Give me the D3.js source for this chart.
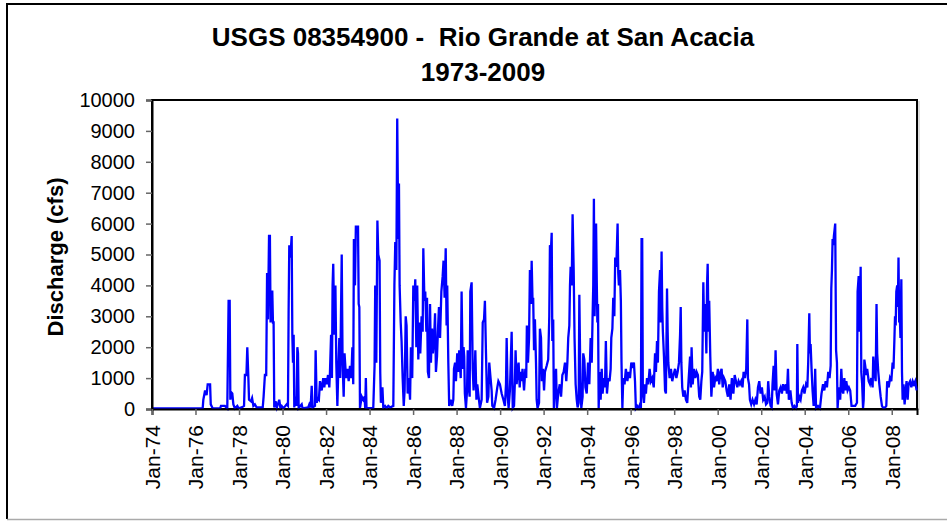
<!DOCTYPE html>
<html>
<head>
<meta charset="utf-8">
<script src="https://cdn.jsdelivr.net/npm/d3@7"></script>
<style>
  body { margin: 0; background: #fff; }
  svg { display: block; font-family: "Liberation Sans", Arial, sans-serif; }
  .title { white-space: pre; }
</style>
</head>
<body>
<svg id="chart" width="947" height="521"></svg>
<script>
// daily discharge as [decimal year, cfs]
const flow1974to1981 = [
  [1974.00,20],[1976.33,20],[1976.36,300],[1976.44,600],[1976.51,450],[1976.56,800],[1976.67,800],[1976.70,150],
  [1976.79,20],[1977.13,20],[1977.17,100],[1977.35,100],[1977.46,20],[1977.52,3500],[1977.57,3500],[1977.60,300],
  [1977.63,550],[1977.69,500],[1977.74,150],[1977.81,20],[1977.92,100],[1977.98,20],[1978.12,50],[1978.23,100],
  [1978.27,1100],[1978.34,1100],[1978.38,2000],[1978.43,1000],[1978.46,300],[1978.55,250],[1978.60,350],[1978.66,100],
  [1978.73,150],[1978.81,50],[1979.09,50],[1979.13,400],[1979.19,1100],[1979.25,1100],[1979.29,4400],[1979.33,2900],
  [1979.38,5600],[1979.42,5600],[1979.45,2800],[1979.48,3800],[1979.53,3800],[1979.56,2800],[1979.59,2800],[1979.62,50],
  [1979.68,250],[1979.74,50],[1979.85,300],[1979.90,50],[1979.96,100],[1980.04,20],[1980.19,150],[1980.25,100],
  [1980.28,3200],[1980.31,5300],[1980.36,4900],[1980.42,5600],[1980.45,2400],[1980.48,1500],[1980.51,2400],[1980.54,50],
  [1980.59,400],[1980.64,100],[1980.68,2000],[1980.71,1800],[1980.74,30],[1980.88,150],[1980.92,20],[1981.18,50],
  [1981.23,150],[1981.29,50],[1981.34,750],[1981.38,50],[1981.49,100],[1981.52,1900],[1981.57,200],[1981.61,350],
  [1981.67,300],[1981.72,900],[1981.80,600],[1981.87,1000],[1981.92,700],[1981.97,1000]
];

const flow1982to1989 = [
  [1982.03,800],[1982.09,1100],[1982.15,700],[1982.18,1200],[1982.23,2400],[1982.27,1000],[1982.30,4000],[1982.33,4700],
  [1982.38,2400],[1982.43,4000],[1982.47,1500],[1982.52,100],[1982.56,1200],[1982.61,2300],[1982.65,1000],[1982.72,5000],
  [1982.76,1500],[1982.81,400],[1982.85,1800],[1982.92,1000],[1982.98,1300],[1983.04,900],[1983.10,1400],[1983.16,1000],
  [1983.21,2000],[1983.25,800],[1983.28,5500],[1983.33,4000],[1983.37,5900],[1983.47,5900],[1983.50,3400],[1983.53,3300],
  [1983.56,30],[1983.64,400],[1983.71,300],[1983.77,400],[1983.80,30],[1983.83,1000],[1983.86,30],[1984.17,30],
  [1984.23,1400],[1984.26,4000],[1984.31,1500],[1984.36,6100],[1984.40,5000],[1984.46,4800],[1984.49,1200],[1984.52,200],
  [1984.59,700],[1984.63,50],[1984.71,100],[1984.78,30],[1984.86,100],[1984.94,50],[1985.09,100],[1985.14,4000],
  [1985.18,5400],[1985.23,4500],[1985.27,9400],[1985.32,5500],[1985.35,7300],[1985.38,4000],[1985.43,2800],[1985.47,2200],
  [1985.52,1000],[1985.57,100],[1985.61,600],[1985.66,3000],[1985.70,2700],[1985.75,500],[1985.80,1000],[1985.86,300],
  [1985.90,2000],[1985.96,1000],[1986.01,4000],[1986.06,3500],[1986.10,4200],[1986.15,2000],[1986.19,4000],[1986.24,1600],
  [1986.29,2800],[1986.33,1800],[1986.39,3000],[1986.44,2500],[1986.47,5200],[1986.52,3500],[1986.56,3800],[1986.61,2500],
  [1986.64,3600],[1986.68,1200],[1986.73,1000],[1986.78,3400],[1986.82,1500],[1986.87,2600],[1986.91,1800],[1986.96,2200],
  [1987.01,3100],[1987.05,1200],[1987.10,1700],[1987.14,2500],[1987.19,3300],[1987.24,2300],[1987.30,3800],[1987.36,4300],
  [1987.40,4800],[1987.45,3600],[1987.50,5200],[1987.54,2700],[1987.57,4000],[1987.62,1500],[1987.66,100],[1987.73,300],
  [1987.80,100],[1987.85,300],[1987.88,1300],[1987.93,1500],[1987.97,900],[1988.03,1800],[1988.08,1200],[1988.12,1900],
  [1988.19,1000],[1988.23,3800],[1988.28,1300],[1988.32,2000],[1988.35,1700],[1988.38,500],[1988.43,30],[1988.48,600],
  [1988.51,1900],[1988.55,800],[1988.60,400],[1988.63,3800],[1988.69,4100],[1988.74,1300],[1988.78,600],[1988.83,1200],
  [1988.86,1900],[1988.91,300],[1988.95,800],[1989.01,400],[1989.07,30],[1989.15,300],[1989.20,2800],[1989.26,2900],
  [1989.30,3500],[1989.35,1800],[1989.40,200],[1989.46,400],[1989.50,1500],[1989.56,1000],[1989.61,600],[1989.64,100],
  [1989.72,30],[1989.79,300],[1989.87,700],[1989.92,900],[1989.99,800]
];

const flow1990to1999 = [
  [1990.07,500],[1990.15,300],[1990.22,100],[1990.27,800],[1990.30,2300],[1990.35,400],[1990.39,30],[1990.45,600],
  [1990.53,2500],[1990.58,30],[1990.64,100],[1990.68,900],[1990.71,1900],[1990.76,800],[1990.81,1300],[1990.85,1500],
  [1990.90,700],[1990.94,1200],[1990.99,900],[1991.03,1300],[1991.10,600],[1991.16,1300],[1991.20,1000],[1991.23,2700],
  [1991.28,1500],[1991.33,2300],[1991.37,4500],[1991.42,3400],[1991.45,4800],[1991.49,3500],[1991.52,3600],[1991.56,1900],
  [1991.60,2900],[1991.65,1500],[1991.68,300],[1991.72,30],[1991.79,200],[1991.83,2600],[1991.88,2300],[1991.92,900],
  [1991.97,1300],[1992.02,600],[1992.06,1200],[1992.14,1400],[1992.21,1600],[1992.26,3000],[1992.29,5300],[1992.34,5200],
  [1992.37,5700],[1992.40,2200],[1992.44,2900],[1992.47,30],[1992.52,700],[1992.57,1300],[1992.61,30],[1992.67,500],
  [1992.74,800],[1992.80,400],[1992.86,1100],[1992.92,1200],[1992.98,1500],[1993.04,900],[1993.09,1500],[1993.13,2300],
  [1993.18,2700],[1993.21,4000],[1993.24,4600],[1993.29,4000],[1993.33,6300],[1993.38,4500],[1993.42,2300],[1993.47,800],
  [1993.52,300],[1993.56,50],[1993.61,200],[1993.64,3700],[1993.69,900],[1993.73,30],[1993.79,400],[1993.82,1800],
  [1993.87,1600],[1993.92,700],[1993.98,500],[1994.04,1500],[1994.10,800],[1994.16,2300],[1994.21,1500],[1994.25,3000],
  [1994.28,4000],[1994.31,6800],[1994.34,3000],[1994.37,4000],[1994.41,6000],[1994.44,4200],[1994.47,2800],[1994.50,3400],
  [1994.53,30],[1994.57,1200],[1994.62,300],[1994.67,1300],[1994.71,500],[1994.77,1000],[1994.82,700],[1994.86,2200],
  [1994.91,500],[1994.97,1000],[1995.03,900],[1995.08,1300],[1995.11,2300],[1995.16,2600],[1995.20,3600],[1995.25,3000],
  [1995.29,4900],[1995.34,4600],[1995.37,5300],[1995.40,6000],[1995.43,4400],[1995.46,4000],[1995.51,4500],[1995.55,3500],
  [1995.58,1500],[1995.62,30],[1995.66,1000],[1995.72,800],[1995.78,1300],[1995.85,900],[1995.91,1200],[1995.97,1000],
  [1996.03,1500],[1996.09,1400],[1996.15,1500],[1996.20,900],[1996.24,30],[1996.30,100],[1996.37,30],[1996.43,150],
  [1996.47,30],[1996.50,5500],[1996.53,5500],[1996.56,500],[1996.61,200],[1996.66,800],[1996.70,500],[1996.75,1000],
  [1996.81,800],[1996.87,1300],[1996.93,900],[1996.99,1000],[1997.06,700],[1997.12,1800],[1997.16,1200],[1997.21,2200],
  [1997.25,1500],[1997.30,3800],[1997.35,4500],[1997.38,2800],[1997.42,5100],[1997.45,3300],[1997.48,2500],[1997.53,1700],
  [1997.58,600],[1997.62,500],[1997.67,3900],[1997.70,2500],[1997.73,1500],[1997.79,1000],[1997.85,1300],[1997.91,900],
  [1997.97,1100],[1998.04,1300],[1998.10,1000],[1998.16,1200],[1998.22,1500],[1998.27,2400],[1998.30,3300],[1998.33,1500],
  [1998.37,700],[1998.42,400],[1998.48,600],[1998.54,300],[1998.60,200],[1998.66,900],[1998.73,1700],[1998.77,700],
  [1998.80,2000],[1998.85,800],[1998.91,1300],[1998.97,1000],[1999.03,1200],[1999.09,1100],[1999.15,400],[1999.20,300],
  [1999.25,900],[1999.29,1200],[1999.34,4100],[1999.38,2500],[1999.43,3400],[1999.48,1800],[1999.51,4000],[1999.54,4700],
  [1999.58,2500],[1999.61,3500],[1999.66,1700],[1999.71,400],[1999.77,1200],[1999.83,700],[1999.89,1000],[1999.95,900]
];

const flow2000to2009 = [
  [2000.01,1300],[2000.07,800],[2000.13,1200],[2000.18,1300],[2000.23,700],[2000.29,1000],[2000.35,900],[2000.41,600],
  [2000.47,400],[2000.53,800],[2000.59,300],[2000.65,1000],[2000.72,500],[2000.78,1100],[2000.84,900],[2000.90,700],
  [2000.96,900],[2001.02,800],[2001.08,900],[2001.14,700],[2001.19,1200],[2001.25,1000],[2001.31,1300],[2001.36,2900],
  [2001.39,1000],[2001.44,800],[2001.48,300],[2001.54,150],[2001.60,300],[2001.67,150],[2001.73,300],[2001.79,150],
  [2001.85,700],[2001.91,900],[2001.97,500],[2002.03,700],[2002.09,300],[2002.16,400],[2002.22,150],[2002.28,200],
  [2002.32,900],[2002.37,400],[2002.43,100],[2002.48,50],[2002.52,800],[2002.57,1400],[2002.62,600],[2002.66,1900],
  [2002.71,500],[2002.77,150],[2002.83,600],[2002.89,700],[2002.95,500],[2003.01,800],[2003.08,600],[2003.14,800],
  [2003.18,500],[2003.23,1300],[2003.27,300],[2003.34,600],[2003.40,200],[2003.46,30],[2003.53,100],[2003.60,30],
  [2003.64,100],[2003.66,2100],[2003.69,200],[2003.75,400],[2003.81,300],[2003.87,600],[2003.93,700],[2003.99,500],
  [2004.06,800],[2004.12,700],[2004.16,1500],[2004.21,3100],[2004.24,1800],[2004.27,2100],[2004.32,1200],[2004.36,600],
  [2004.41,100],[2004.45,400],[2004.48,1300],[2004.52,30],[2004.61,100],[2004.70,30],[2004.77,500],[2004.84,800],
  [2004.90,600],[2004.96,900],[2005.02,700],[2005.08,1200],[2005.14,1000],[2005.19,1400],[2005.22,3900],[2005.25,4500],
  [2005.28,5500],[2005.31,5300],[2005.34,5600],[2005.37,5800],[2005.40,6000],[2005.44,1900],[2005.48,1500],[2005.51,30],
  [2005.57,700],[2005.63,300],[2005.68,1300],[2005.73,600],[2005.77,500],[2005.82,1000],[2005.86,600],[2005.91,900],
  [2005.97,600],[2006.03,700],[2006.09,600],[2006.15,100],[2006.23,100],[2006.32,100],[2006.40,200],[2006.43,3800],
  [2006.48,4300],[2006.52,2500],[2006.57,4600],[2006.60,1200],[2006.64,800],[2006.68,30],[2006.71,300],[2006.74,1600],
  [2006.78,1400],[2006.83,1100],[2006.87,1300],[2006.94,900],[2007.00,800],[2007.06,1000],[2007.12,700],[2007.15,1700],
  [2007.20,1200],[2007.26,900],[2007.30,3400],[2007.33,1800],[2007.38,1200],[2007.43,800],[2007.49,400],[2007.55,100],
  [2007.61,30],[2007.69,50],[2007.75,100],[2007.79,900],[2007.86,700],[2007.92,1000],[2007.98,900],[2008.04,1500],
  [2008.08,1300],[2008.12,2200],[2008.15,3000],[2008.18,2700],[2008.21,3800],[2008.25,4000],[2008.28,3300],[2008.31,4900],
  [2008.34,2800],[2008.37,3000],[2008.40,2300],[2008.44,4200],[2008.47,1200],[2008.50,300],[2008.54,800],[2008.59,150],
  [2008.64,600],[2008.68,900],[2008.73,300],[2008.77,800],[2008.84,900],[2008.90,700],[2008.96,900],[2009.02,800],
  [2009.08,900],[2009.14,600]
];

const titleLines = ["USGS 08354900 -  Rio Grande at San Acacia", "1973-2009"];
const yLabel = "Discharge (cfs)";
const yTicks = d3.range(0, 10001, 1000);

function toDate(dy) {
  const yr = Math.floor(dy);
  const start = new Date(yr, 0, 1), end = new Date(yr + 1, 0, 1);
  return new Date(+start + (dy - yr) * (end - start));
}

const series = [...flow1974to1981, ...flow1982to1989, ...flow1990to1999, ...flow2000to2009]
  .map(([t, v]) => ({ date: toDate(t), cfs: v }));

const svg = d3.select("#chart");
const W = 947, H = 521;
const m = { left: 152, top: 100, right: 917, bottom: 409 };

svg.append("rect").attr("width", W).attr("height", H).attr("fill", "#fff");

// outer chart frame (cropped on the right)
svg.append("path")
  .attr("d", `M7,519 V4 H947`)
  .attr("fill", "none").attr("stroke", "#000").attr("stroke-width", 2);
svg.append("line")
  .attr("x1", 7).attr("x2", W).attr("y1", 519.5).attr("y2", 519.5)
  .attr("stroke", "#aaa").attr("stroke-width", 1.5);

const x = d3.scaleTime()
  .domain([new Date(1974, 0, 1), new Date(2009, 1, 28)])
  .range([m.left, m.right]);
const y = d3.scaleLinear().domain([0, 10000]).range([m.bottom, m.top]);

// plot area border
svg.append("rect")
  .attr("x", m.left).attr("y", m.top)
  .attr("width", m.right - m.left).attr("height", m.bottom - m.top)
  .attr("fill", "none").attr("stroke", "#000").attr("stroke-width", 2);
svg.append("line")
  .attr("x1", m.right + 2).attr("x2", m.right + 2).attr("y1", m.top + 1).attr("y2", m.bottom + 1)
  .attr("stroke", "#bbb").attr("stroke-width", 1);

const line = d3.line().x(d => x(d.date)).y(d => y(d.cfs));
svg.append("path")
  .datum(series)
  .attr("d", line)
  .attr("fill", "none")
  .attr("stroke", "#0000ff")
  .attr("stroke-width", 2.3)
  .attr("stroke-linejoin", "miter");

// y axis
const yAxis = svg.append("g")
  .attr("transform", `translate(${m.left},0)`)
  .call(d3.axisLeft(y).tickValues(yTicks).tickSize(6).tickPadding(11).tickFormat(d3.format("d")));
yAxis.select(".domain").attr("stroke", "#000").attr("stroke-width", 2);
yAxis.selectAll(".tick line").attr("stroke", "#666").attr("stroke-width", 1.5);
yAxis.selectAll("text").attr("font-size", 20).attr("fill", "#000")
  .attr("font-family", "'Liberation Sans', Arial, sans-serif");

// x axis
const xTickDates = d3.timeYear.every(2).range(new Date(1974, 0, 1), new Date(2009, 0, 2));
const xAxis = svg.append("g")
  .attr("transform", `translate(0,${m.bottom})`)
  .call(d3.axisBottom(x).tickValues(xTickDates).tickSize(6).tickFormat(d3.timeFormat("%b-%y")));
xAxis.select(".domain").attr("stroke", "#000").attr("stroke-width", 2);
xAxis.selectAll(".tick line").attr("stroke", "#666").attr("stroke-width", 1.5);
xAxis.selectAll("text")
  .attr("font-size", 21).attr("fill", "#000")
  .attr("font-family", "'Liberation Sans', Arial, sans-serif")
  .attr("transform", "rotate(-90)")
  .attr("x", -16).attr("y", 0).attr("dy", "0.35em")
  .attr("text-anchor", "end");

// title
svg.append("g").selectAll("text")
  .data(titleLines)
  .join("text")
  .attr("class", "title")
  .attr("x", 483)
  .attr("y", (d, i) => 46 + i * 35)
  .attr("text-anchor", "middle")
  .attr("font-size", 26)
  .attr("font-weight", "bold")
  .text(d => d);

// y label
svg.append("text")
  .attr("transform", `translate(63,257) rotate(-90)`)
  .attr("text-anchor", "middle")
  .attr("font-size", 22)
  .attr("font-weight", "bold")
  .text(yLabel);
</script>
</body>
</html>
